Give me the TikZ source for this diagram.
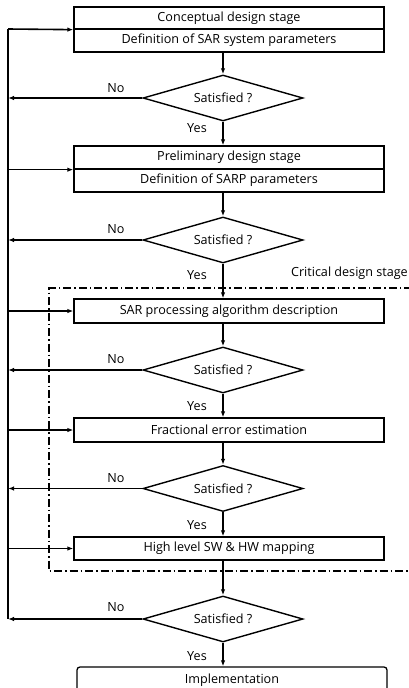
\documentclass[tikz,border=0pt]{standalone}
\usepackage{fontspec}
\setmainfont{Open Sans}
\usetikzlibrary{arrows.meta,shapes.geometric}
\begin{document}
\begin{tikzpicture}[x=1pt,y=-1pt,
  txt/.style={font=\fontsize{12.6}{14}\selectfont},
  box/.style={draw, line width=1.3pt, minimum width=310pt, inner sep=0pt, txt},
  decide/.style={diamond, draw, line width=1.4pt, minimum width=160pt, minimum height=46pt, inner sep=0pt, aspect=3.5, txt},
  flow/.style={line width=1.6pt, -{Latex[length=6pt,width=4.5pt]}},
  plain/.style={line width=1.6pt},
  lab/.style={inner sep=0pt, txt},
  stagebox/.style={line width=1.3pt, dash pattern=on 8pt off 3pt on 1.5pt off 3pt}
]
\useasboundingbox (0,0) rectangle (409,688);

% boxes
\node[box, minimum height=22pt] (b1a) at (229,18) {Conceptual design stage};
\node[box, minimum height=23pt] (b1b) at (229,40.5) {Definition of SAR system parameters};
\node[box, minimum height=23pt] (b2a) at (229,157.5) {Preliminary design stage};
\node[box, minimum height=23pt] (b2b) at (229,180.5) {Definition of SARP parameters};
\node[box, minimum height=24pt] (b3) at (229,311) {SAR processing algorithm description};
\node[box, minimum height=24pt] (b4) at (229,430) {Fractional error estimation};
\node[box, minimum height=23pt] (b5) at (229,548.5) {High level SW \& HW mapping};
\node[box, minimum height=26pt, rounded corners=3pt] (impl) at (232,680) {Implementation};

% decisions
\node[decide] (d1) at (223,98) {Satisfied ?};
\node[decide] (d2) at (223,240) {Satisfied ?};
\node[decide] (d3) at (223,370) {Satisfied ?};
\node[decide] (d4) at (223,488.5) {Satisfied ?};
\node[decide] (d5) at (223,619) {Satisfied ?};

% critical design stage frame
\coordinate (fTR) at (412,288);
\coordinate (fTL) at (49,288);
\coordinate (fBL) at (49,571);
\coordinate (fBR) at (412,571);
\draw[stagebox] (fTR) -- (fTL) -- (fBL) -- (fBR);
\node[lab, anchor=east] (crit) at (408,273) {Critical design stage};

% main flow
\draw[flow] (b1b.south -| d1.north) -- (d1.north);
\draw[flow] (d1.south) -- (b2a.north -| d1.south);
\draw[flow] (b2b.south -| d2.north) -- (d2.north);
\draw[flow] (d2.south) -- (b3.north -| d2.south);
\draw[flow] (b3.south -| d3.north) -- (d3.north);
\draw[flow] (d3.south) -- (b4.north -| d3.south);
\draw[flow] (b4.south -| d4.north) -- (d4.north);
\draw[flow] (d4.south) -- (b5.north -| d4.south);
\draw[flow] (b5.south -| d5.north) -- (d5.north);
\draw[flow] (d5.south) -- (impl.north -| d5.south);

% feedback line
\coordinate (Ltop) at (8,29);
\coordinate (Lbot) at (8,619);
\draw[plain] (Ltop) -- (Lbot);
\draw[flow] (d1.west) -- (d1.west -| Ltop);
\draw[flow] (d2.west) -- (d2.west -| Ltop);
\draw[flow] (d3.west) -- (d3.west -| Ltop);
\draw[flow] (d4.west) -- (d4.west -| Ltop);
\draw[flow] (d5.west) -- (d5.west -| Ltop);
\draw[flow] (Ltop) -- (b1a.south west);
\draw[flow] (b2a.south west -| Ltop) -- (b2a.south west);
\draw[flow] (b3.west -| Ltop) -- (b3.west);
\draw[flow] (b4.west -| Ltop) -- (b4.west);
\draw[flow] (b5.west -| Ltop) -- (b5.west);

% labels
\node[lab] (no1) at (116,88) {No};
\node[lab] (no2) at (116,229) {No};
\node[lab] (no3) at (116,359) {No};
\node[lab] (no4) at (116,478) {No};
\node[lab] (no5) at (116,607) {No};
\node[lab] (yes1) at (197,128) {Yes};
\node[lab] (yes2) at (197,275) {Yes};
\node[lab] (yes3) at (197,406) {Yes};
\node[lab] (yes4) at (197,525) {Yes};
\node[lab] (yes5) at (197,656) {Yes};
\end{tikzpicture}
\end{document}
